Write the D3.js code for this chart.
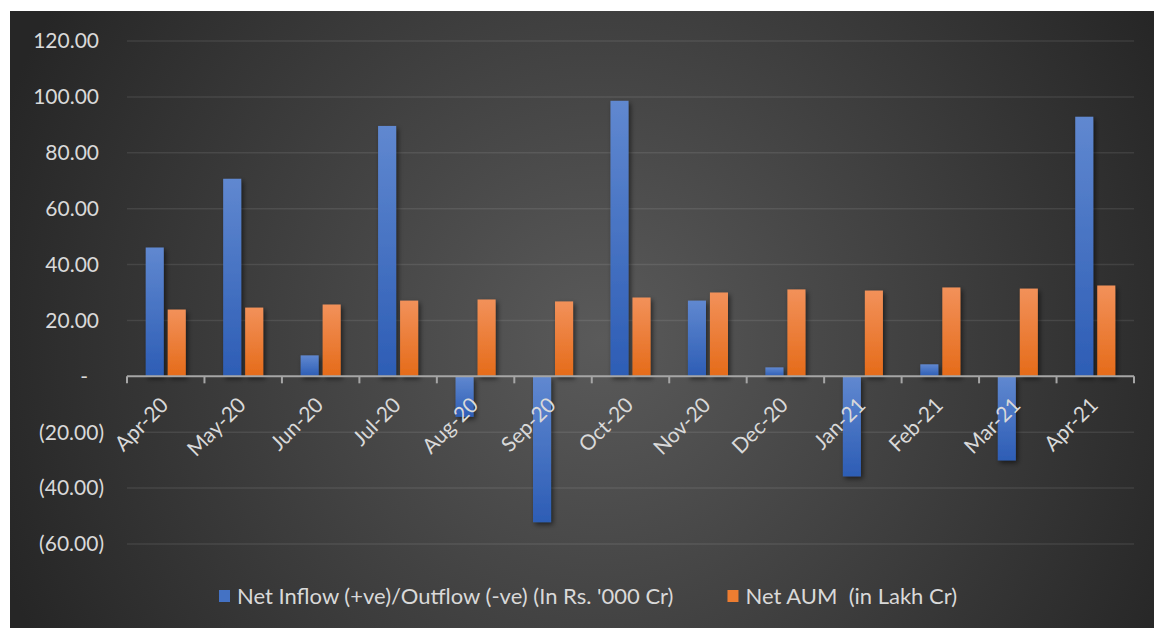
<!DOCTYPE html>
<html>
<head>
<meta charset="utf-8">
<script src="https://cdn.jsdelivr.net/npm/d3@7/dist/d3.min.js"></script>
<style>
  html, body { margin: 0; padding: 0; background: #ffffff; }
  svg { display: block; }
  text { font-family: Lato, "Open Sans", sans-serif; fill: #d9d9d9; }
</style>
</head>
<body>
<svg id="chart" width="1154" height="628"></svg>
<script>
// Monthly mutual fund flows and AUM
const categories = ["Apr-20","May-20","Jun-20","Jul-20","Aug-20","Sep-20","Oct-20","Nov-20","Dec-20","Jan-21","Feb-21","Mar-21","Apr-21"];
const netFlow = [46.1, 70.7, 7.5, 89.6, -14.5, -52.2, 98.6, 27.1, 3.2, -35.8, 4.3, -30.1, 92.9];
const netAUM = [23.9, 24.6, 25.7, 27.1, 27.5, 26.8, 28.2, 30.0, 31.1, 30.7, 31.8, 31.4, 32.5];
const seriesNames = ["Net Inflow (+ve)/Outflow (-ve) (In Rs. '000 Cr)", "Net AUM  (in Lakh Cr)"];
const yTicks = [-60, -40, -20, 0, 20, 40, 60, 80, 100, 120];

const svg = d3.select("#chart");
const W = 1154, H = 628;
const plot = { left: 127, right: 1134, top: 41, bottom: 544 };

const defs = svg.append("defs");

// chart-area background: radial dark gradient
const bg = defs.append("radialGradient")
  .attr("id", "bgGrad").attr("gradientUnits", "userSpaceOnUse")
  .attr("cx", 600).attr("cy", 340).attr("r", 640);
bg.append("stop").attr("offset", "0%").attr("stop-color", "#5a5a5a");
bg.append("stop").attr("offset", "100%").attr("stop-color", "#262626");

// bar fills: lighter at the top, deeper at the bottom
function barGradient(id, top, bottom) {
  const g = defs.append("linearGradient").attr("id", id)
    .attr("x1", 0).attr("y1", 0).attr("x2", 0).attr("y2", 1);
  g.append("stop").attr("offset", "0%").attr("stop-color", top);
  g.append("stop").attr("offset", "100%").attr("stop-color", bottom);
}
barGradient("blueGrad", "#6088d0", "#2d5db5");
barGradient("orangeGrad", "#f2915a", "#e56b19");

const shadow = defs.append("filter").attr("id", "barShadow")
  .attr("x", "-50%").attr("y", "-20%").attr("width", "200%").attr("height", "140%");
shadow.append("feDropShadow").attr("dx", 2).attr("dy", 2.5)
  .attr("stdDeviation", 2.5).attr("flood-color", "#000").attr("flood-opacity", 0.55);

svg.append("rect").attr("x", 10).attr("y", 11)
  .attr("width", W - 10).attr("height", H - 11)
  .attr("fill", "url(#bgGrad)");

// scales
const x = d3.scaleBand().domain(categories).range([plot.left, plot.right]).paddingInner(0).paddingOuter(0);
const xs = d3.scaleBand().domain([0, 1]).range([0, x.bandwidth()]).paddingInner(0.18).paddingOuter(0.85);
const y = d3.scaleLinear().domain([-60, 120]).range([plot.bottom, plot.top]);

// gridlines
svg.append("g").selectAll("line").data(yTicks.filter(d => d !== 0)).join("line")
  .attr("x1", plot.left).attr("x2", plot.right)
  .attr("y1", d => y(d)).attr("y2", d => y(d))
  .attr("stroke", "rgba(255,255,255,0.09)").attr("stroke-width", 1.5);

// y labels in accounting style
const fmt = d3.format(",.2f");
const yAxis = svg.append("g").attr("class", "y-axis");
yAxis.selectAll("text").data(yTicks).join("text")
  .attr("x", d => d < 0 ? 104 : (d === 0 ? 88 : 99))
  .attr("y", d => y(d))
  .attr("dy", "0.35em")
  .attr("text-anchor", "end")
  .attr("font-size", 21)
  .text(d => d === 0 ? "-" : (d < 0 ? "(" + fmt(-d) + ")" : fmt(d)));

// bars
const seriesData = [netFlow, netAUM];
const fills = ["url(#blueGrad)", "url(#orangeGrad)"];
const legendFills = ["#4472c4", "#ed7d31"];
seriesData.forEach((vals, si) => {
  svg.append("g").attr("filter", "url(#barShadow)")
    .selectAll("rect").data(vals).join("rect")
    .attr("x", (d, i) => x(categories[i]) + xs(si))
    .attr("width", xs.bandwidth())
    .attr("y", d => y(Math.max(0, d)))
    .attr("height", d => Math.abs(y(d) - y(0)))
    .attr("fill", fills[si]);
});

// category axis with tick marks between categories
const axisG = svg.append("g");
axisG.append("line")
  .attr("x1", plot.left).attr("x2", plot.right)
  .attr("y1", y(0)).attr("y2", y(0))
  .attr("stroke", "#a6a6a6").attr("stroke-width", 2);
const tickXs = categories.map(c => x(c)).concat([plot.right]);
axisG.selectAll("line.tick").data(tickXs).join("line").attr("class", "tick")
  .attr("x1", d => d).attr("x2", d => d)
  .attr("y1", y(0)).attr("y2", y(0) + 7)
  .attr("stroke", "#a6a6a6").attr("stroke-width", 2);

axisG.selectAll("text").data(categories).join("text")
  .attr("text-anchor", "end")
  .attr("font-size", 21)
  .attr("transform", d => `translate(${x(d) + x.bandwidth() / 2 + 4},${y(0) + 30}) rotate(-45)`)
  .text(d => d);

// legend
const legend = svg.append("g").attr("transform", "translate(219,596)");
let lx = 0;
seriesNames.forEach((name, i) => {
  const g = legend.append("g").attr("transform", `translate(${lx},0)`);
  g.append("rect").attr("x", 0).attr("y", -6).attr("width", 11).attr("height", 12)
    .attr("fill", legendFills[i]);
  const t = g.append("text").attr("x", 18).attr("y", 0).attr("dy", "0.35em")
    .attr("font-size", 22).style("white-space", "pre").text(name);
  lx += 18 + t.node().getComputedTextLength() + 54;
});
</script>
</body>
</html>
